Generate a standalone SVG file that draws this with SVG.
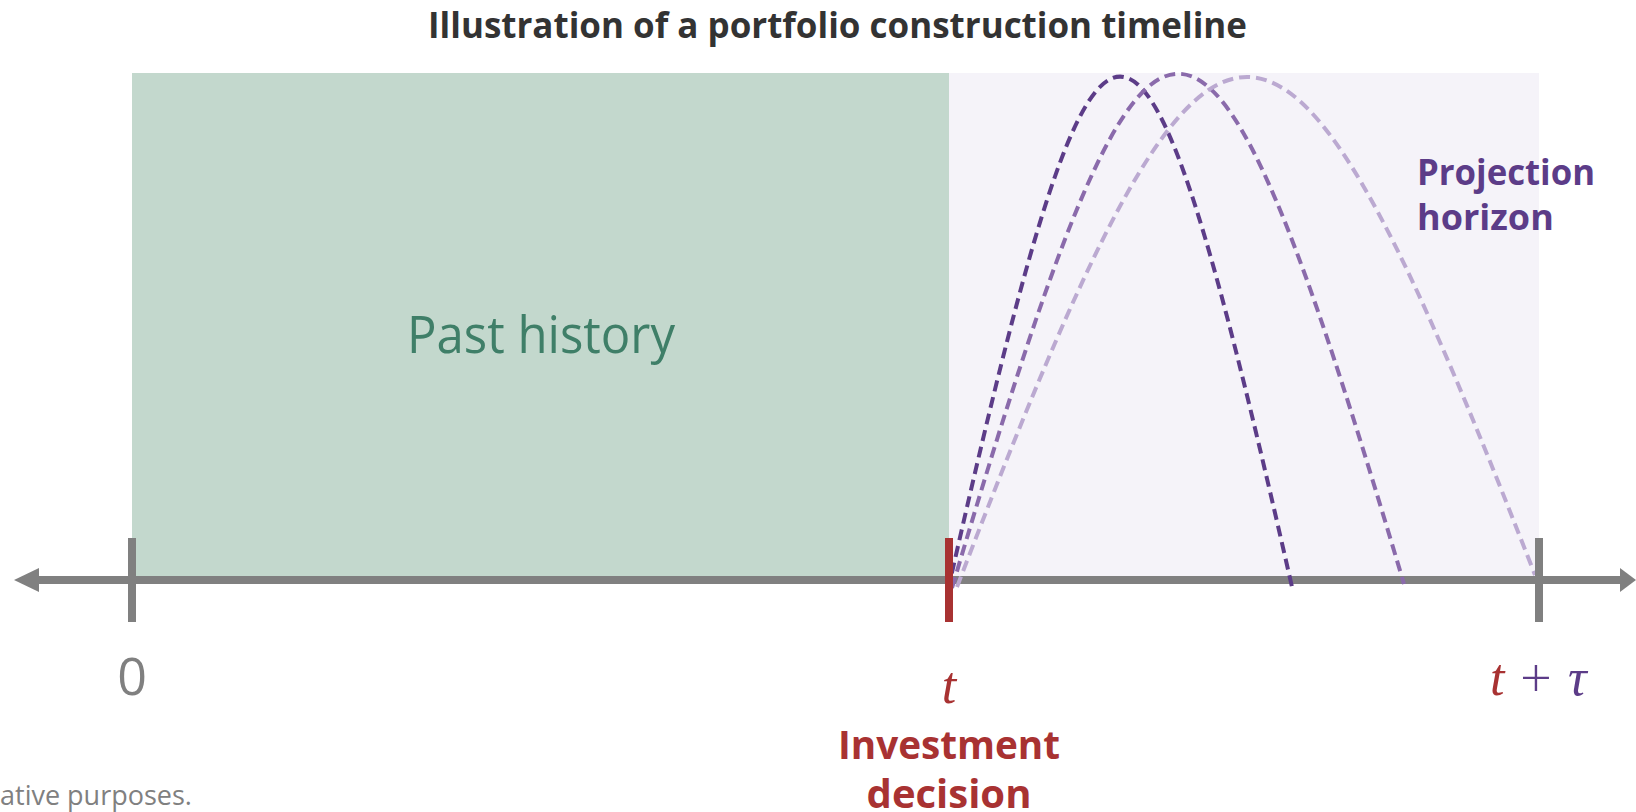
<svg xmlns="http://www.w3.org/2000/svg" width="1636" height="812" viewBox="0 0 1636 812">
<defs>
<style>
.sans{font-family:"Open Sans","Noto Sans","Liberation Sans",sans-serif}
.bold{font-weight:700}
.math{font-family:"Liberation Serif","DejaVu Serif",serif;font-style:italic}
.red{fill:#a83232}
.purple{fill:#5c3c88}
.grey{fill:#808080}
.tick{stroke:#808080;stroke-width:8}
.curve{fill:none;stroke-width:4;stroke-dasharray:11 6}
</style>
</defs>
<rect width="1636" height="812" fill="#ffffff"/>
<text id="title" class="sans bold" x="837.5" y="38" font-size="35" fill="#333333" text-anchor="middle" textLength="819" lengthAdjust="spacingAndGlyphs">Illustration of a portfolio construction timeline</text>

<g id="past-history">
<rect x="132" y="73" width="817" height="503" fill="#c3d8cd"/>
<text class="sans" x="541" y="353" font-size="51" fill="#3f7f68" text-anchor="middle" textLength="268" lengthAdjust="spacingAndGlyphs">Past history</text>
</g>

<g id="projection-horizon">
<rect x="949" y="73" width="590" height="503" fill="#f5f3f9"/>
<text class="sans bold purple" font-size="36"><tspan x="1417" y="185" textLength="178" lengthAdjust="spacingAndGlyphs">Projection</tspan><tspan x="1417" y="230">horizon</tspan></text>
</g>

<g id="connectors">
<line x1="30" y1="580" x2="1622" y2="580" stroke="#808080" stroke-width="8"/>
<polygon points="14,580 39,568 39,592" fill="#808080"/>
<polygon points="1636,580 1620,568 1620,592" fill="#808080"/>
<path class="curve" stroke="#5c3c88" d="M948,590 C1103,-94 1137,-94 1292,587"/>
<path class="curve" stroke="#8a6aab" d="M952,588 C1155,-97 1201,-97 1404,584"/>
<path class="curve" stroke="#bba9d1" d="M957,587 C1217,-91 1275,-91 1535,575"/>
</g>

<g id="tick-0">
<line class="tick" x1="132" y1="538" x2="132" y2="622"/>
<text class="sans grey" x="132" y="695" font-size="52" text-anchor="middle">0</text>
</g>

<g id="tick-t">
<line x1="949" y1="538" x2="949" y2="622" stroke="#a83232" stroke-width="8"/>
<text class="math red" x="949" y="703" font-size="52" text-anchor="middle">t</text>
<text class="sans bold red" font-size="40" text-anchor="middle"><tspan x="949" y="759" textLength="222" lengthAdjust="spacingAndGlyphs">Investment</tspan><tspan x="949" y="808">decision</tspan></text>
</g>

<g id="tick-t-tau">
<line class="tick" x1="1539" y1="538" x2="1539" y2="622"/>
<text class="math red" x="1490" y="695" font-size="52">t</text>
<text class="sans purple" x="1536" y="697" font-size="56" font-weight="300" text-anchor="middle">+</text>
<text class="math purple" x="1568" y="695" font-size="52">τ</text>
</g>

<text id="footnote" class="sans grey" x="0" y="805" font-size="27">ative purposes.</text>
</svg>
